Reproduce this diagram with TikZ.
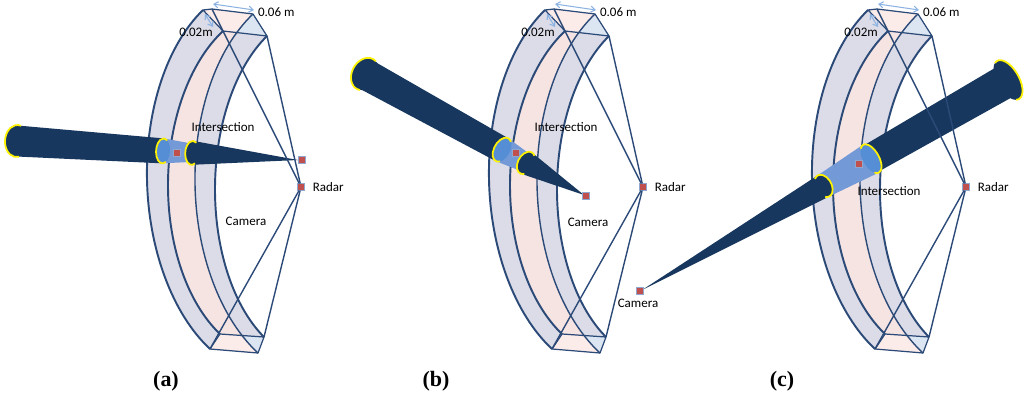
\documentclass[tikz,border=0pt]{standalone}
\usepackage{fontspec}
\setmainfont{Liberation Serif}
\newfontfamily\calfont{Carlito}
\usetikzlibrary{arrows.meta,positioning}

\definecolor{ringline}{HTML}{2C4A78}
\definecolor{bandgrey}{HTML}{DBDCE7}
\definecolor{bandpink}{HTML}{F6E4E2}
\definecolor{cappink}{HTML}{FBECE9}
\definecolor{capblue}{HTML}{DCE6F2}
\definecolor{beamdark}{HTML}{17375E}
\definecolor{beammid}{HTML}{558ED5}
\definecolor{beamlight}{HTML}{7399D6}
\definecolor{dimblue}{HTML}{8DB3E2}
\definecolor{markred}{HTML}{C0504D}
\definecolor{markedge}{HTML}{8FA8D0}

% the four edges of the ring, in pixels
\newcommand{\arcOneDown}{(203,10) .. controls (166.9,45) and (145.6,109.6) .. (147,179.5) .. controls (148.4,249.4) and (172.5,314) .. (210,349)}
\newcommand{\arcTwoDown}{(223,31) .. controls (189.6,62.3) and (168.6,120) .. (168,182.5) .. controls (167.4,245) and (187.2,302.7) .. (220,334)}
\newcommand{\arcTwoUp}{-- (220,334) .. controls (187.2,302.7) and (167.4,245) .. (168,182.5) .. controls (168.6,120) and (189.6,62.3) .. (223,31)}
\newcommand{\arcThreeDown}{(253,14) .. controls (216.1,49) and (194,113.6) .. (195,183.5) .. controls (196,253.4) and (220.1,318) .. (258,353)}
\newcommand{\arcThreeUp}{-- (258,353) .. controls (220.1,318) and (196,253.4) .. (195,183.5) .. controls (194,113.6) and (216.1,49) .. (253,14)}
\newcommand{\arcFourUp}{-- (264,337) .. controls (233.1,306) and (214.4,248.6) .. (215,186.5) .. controls (215.6,124.4) and (235.4,67) .. (267,36)}

\tikzset{
  ringedge/.style={draw=ringline, line width=1.1pt},
  thinedge/.style={draw=ringline, line width=0.8pt},
  capedge/.style={draw=ringline, line width=0.7pt, line join=round},
  radarline/.style={draw=ringline, line width=0.8pt},
  dimarrow/.style={draw=dimblue, line width=0.6pt,
    {Straight Barb[length=2.5pt,width=3.5pt]}-{Straight Barb[length=2.5pt,width=3.5pt]}},
  marker/.style={draw=markedge, fill=markred, line width=0.5pt, minimum size=3.6pt, inner sep=0pt},
  tag/.style={font=\calfont\fontsize{7.4}{8.5}\selectfont, inner sep=1pt},
  caption/.style={font=\bfseries\fontsize{12.5}{14}\selectfont},
  rim/.style={draw=yellow, line width=1pt},
}

\begin{document}
\begin{tikzpicture}[x=0.02cm, y=-0.02cm]
    \useasboundingbox (0,0) rectangle (1024,403);
    % Draw rings
    \foreach \dx/\p in {0/a, 342/b, 665/c}{
        \begin{scope}[shift={(\dx,0)}]
            \fill[bandgrey] \arcThreeDown \arcFourUp -- cycle;
            \fill[bandpink] \arcTwoDown \arcThreeUp -- cycle;
            \fill[bandgrey] \arcOneDown \arcTwoUp -- cycle;
            % end caps
            \fill[cappink] (203,10) -- (212,9) -- (253,14) -- (267,36) -- (223,31) -- cycle;
            \fill[capblue] (253,14) -- (267,36) -- (237,33) -- cycle;
            \fill[cappink] (210,349) -- (220,334) -- (264,337) -- (258,353) -- cycle;
            \fill[capblue] (242,335.5) -- (264,337) -- (258,353) -- cycle;
            \draw[thinedge] \arcThreeDown;
            \draw[ringedge] \arcOneDown;
            \draw[ringedge] \arcTwoDown;
            \draw[ringedge] (264,337) \arcFourUp;
            \draw[capedge] (203,10) -- (212,9) -- (253,14) -- (267,36) -- (223,31) -- cycle;
            \draw[capedge] (210,349) -- (220,334) -- (264,337) -- (258,353) -- cycle;
        \end{scope}
    }
    % Draw beams
    \begin{scope}[shift={(17,141)}, rotate=-3.87]
        \fill[beamdark] (0,15.5) -- (146.4,12.5) -- (146.4,-12.5) -- (0,-15.5) -- cycle;
        \fill[beamdark] (0,0) ellipse[x radius=12, y radius=16];
        \draw[rim] (0,0) ++(75:12 and 16) arc[start angle=75, end angle=285, x radius=12, y radius=16];
        \fill[beamlight] (146.4,12.5) -- (172,9.5) -- (172,-9.5) -- (146.4,-12.5) -- cycle;
        \fill[beammid] (146.4,0) ellipse[x radius=7, y radius=12.5];
        \draw[rim] (146.4,0) ++(60:7 and 12.5) arc[start angle=60, end angle=300, x radius=7, y radius=12.5];
        \fill[beamdark] (175.6,12) -- (281.6,0) -- (175.6,-12) -- cycle;
        \fill[beamdark] (175.6,0) ellipse[x radius=7, y radius=12];
        \draw[rim] (175.6,0) ++(60:7 and 12) arc[start angle=60, end angle=300, x radius=7, y radius=12];
    \end{scope}
    \begin{scope}[shift={(365,74)}, rotate=-28.92]
        \fill[beamdark] (0,15.5) -- (156.6,13) -- (156.6,-13) -- (0,-15.5) -- cycle;
        \fill[beamdark] (0,0) ellipse[x radius=13, y radius=17];
        \draw[rim] (0,0) ++(75:13 and 17) arc[start angle=75, end angle=285, x radius=13, y radius=17];
        \fill[beamlight] (156.6,13) -- (180,10) -- (180,-10) -- (156.6,-13) -- cycle;
        \fill[beammid] (156.6,0) ellipse[x radius=8, y radius=13];
        \draw[rim] (156.6,0) ++(60:8 and 13) arc[start angle=60, end angle=300, x radius=8, y radius=13];
        \fill[beamdark] (183.9,12) -- (250.2,0) -- (183.9,-12) -- cycle;
        \fill[beamdark] (183.9,0) ellipse[x radius=8, y radius=12];
        \draw[rim] (183.9,0) ++(60:8 and 12) arc[start angle=60, end angle=300, x radius=8, y radius=12];
    \end{scope}
    \begin{scope}[shift={(1008,80)}, rotate=-150.15]
        \fill[beamdark] (0,17) -- (158,15) -- (158,-15) -- (0,-17) -- cycle;
        \fill[beamdark] (0,0) ellipse[x radius=11, y radius=22];
        \draw[rim] (0,0) ++(75:11 and 22) arc[start angle=75, end angle=285, x radius=11, y radius=22];
        \fill[beamlight] (158,16) -- (212.7,12) -- (212.7,-12) -- (158,-16) -- cycle;
        \fill[beammid] (158,0) ellipse[x radius=8, y radius=16];
        \draw[rim] (158,0) ++(60:8 and 16) arc[start angle=60, end angle=300, x radius=8, y radius=16];
        \fill[beamdark] (212.7,12) -- (422,0) -- (212.7,-12) -- cycle;
        \fill[beamdark] (212.7,0) ellipse[x radius=8, y radius=12];
        \draw[rim] (212.7,0) ++(60:8 and 12) arc[start angle=60, end angle=300, x radius=8, y radius=12];
    \end{scope}
    % Draw radar lines and sizes
    \foreach \dx/\p in {0/a, 342/b, 665/c}{
        \begin{scope}[shift={(\dx,0)}]
            \coordinate (top\p) at (212,9);
            \coordinate (topback\p) at (267,36);
            \coordinate (bot\p) at (210,349);
            \coordinate (botback\p) at (264,337);
            \node[marker] (radar\p) at (301,187) {};
            \draw[radarline] (top\p) -- (radar\p);
            \draw[radarline] (topback\p) -- (radar\p);
            \draw[radarline] (bot\p) -- (radar\p);
            \draw[radarline] (botback\p) -- (radar\p);
            \node[tag, right=3.5pt of radar\p] (radartext\p) {Radar};
            \coordinate (depthA\p) at (213,4);
            \coordinate (depthB\p) at (254,10);
            \draw[dimarrow] (depthA\p) -- (depthB\p);
            \node[tag, anchor=west] (depth\p) at (256,12) {0.06 m};
            \coordinate (thickA\p) at (205,14);
            \coordinate (thickB\p) at (213,27);
            \draw[dimarrow] (thickA\p) -- (thickB\p);
            \node[tag] (thick\p) at (196,32) {0.02m};
        \end{scope}
    }
    % Intersections and cameras
    \node[marker] (hita) at (177,153) {};
    \node[marker] (hitb) at (516,153) {};
    \node[marker] (hitc) at (859,164) {};
    \node[marker] (cama) at (302,160) {};
    \node[marker] (camb) at (586,196) {};
    \node[marker] (camc) at (640,291) {};
    \node[tag] (hittexta) at (223,127) {Intersection};
    \node[tag] (hittextb) at (566,127) {Intersection};
    \node[tag] (hittextc) at (889,191) {Intersection};
    \node[tag] (camtexta) at (246,221) {Camera};
    \node[tag] (camtextb) at (588,222) {Camera};
    \node[tag] (camtextc) at (638,303) {Camera};
    % Captions
    \node[caption] (capa) at (166,381) {(a)};
    \node[caption] (capb) at (436,381) {(b)};
    \node[caption] (capc) at (782,381) {(c)};
\end{tikzpicture}
\end{document}
